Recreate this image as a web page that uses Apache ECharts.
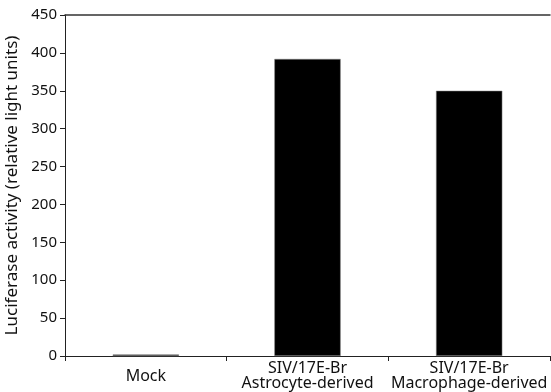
<!DOCTYPE html>
<html><head><meta charset="utf-8">
<script src="https://cdn.jsdelivr.net/npm/echarts@6/dist/echarts.min.js"></script>
<style>html,body{margin:0;padding:0;background:#fff}#c{width:551px;height:392px}</style>
</head><body><div id="c"></div>
<script>
var categories = ['Mock', 'SIV/17E-Br\nAstrocyte-derived', 'SIV/17E-Br\nMacrophage-derived'];
var values = [2, 392, 350];
var yTicks = [0, 50, 100, 150, 200, 250, 300, 350, 400, 450];
var yTitle = 'Luciferase activity (relative light units)';

var font = 'Noto Sans';
var chart = echarts.init(document.getElementById('c'), null, {renderer: 'canvas'});
chart.setOption({
  animation: false,
  backgroundColor: '#fff',
  grid: {left: 65, right: 1, top: 15, bottom: 36, containLabel: false, outerBoundsMode: 'none'},
  xAxis: [{
    type: 'category', data: categories, position: 'bottom',
    axisLine: {lineStyle: {color: '#222', width: 1}},
    axisTick: {show: true, alignWithLabel: false, length: 5, lineStyle: {color: '#222'}},
    axisLabel: {color: '#111', fontFamily: font, fontSize: 16, margin: 20, lineHeight: 15,
      verticalAlign: 'middle', interval: 0}
  }, {
    type: 'category', data: categories, position: 'top',
    axisLine: {show: true, lineStyle: {color: '#333', width: 1.5}},
    axisTick: {show: false}, axisLabel: {show: false}
  }],
  yAxis: {
    type: 'value', min: yTicks[0], max: yTicks[yTicks.length - 1], interval: 50,
    name: yTitle, nameLocation: 'middle', nameGap: 37,
    nameTextStyle: {color: '#111', fontFamily: font, fontSize: 17},
    axisLine: {show: true, lineStyle: {color: '#222', width: 1}},
    axisTick: {show: true, length: 5, lineStyle: {color: '#222'}},
    axisLabel: {color: '#111', fontFamily: font, fontSize: 15, margin: 8},
    splitLine: {show: false}
  },
  series: [{
    type: 'bar', data: values, barWidth: '41%',
    itemStyle: {color: '#000', borderColor: '#888', borderWidth: 0.5}
  }]
});
</script></body></html>
